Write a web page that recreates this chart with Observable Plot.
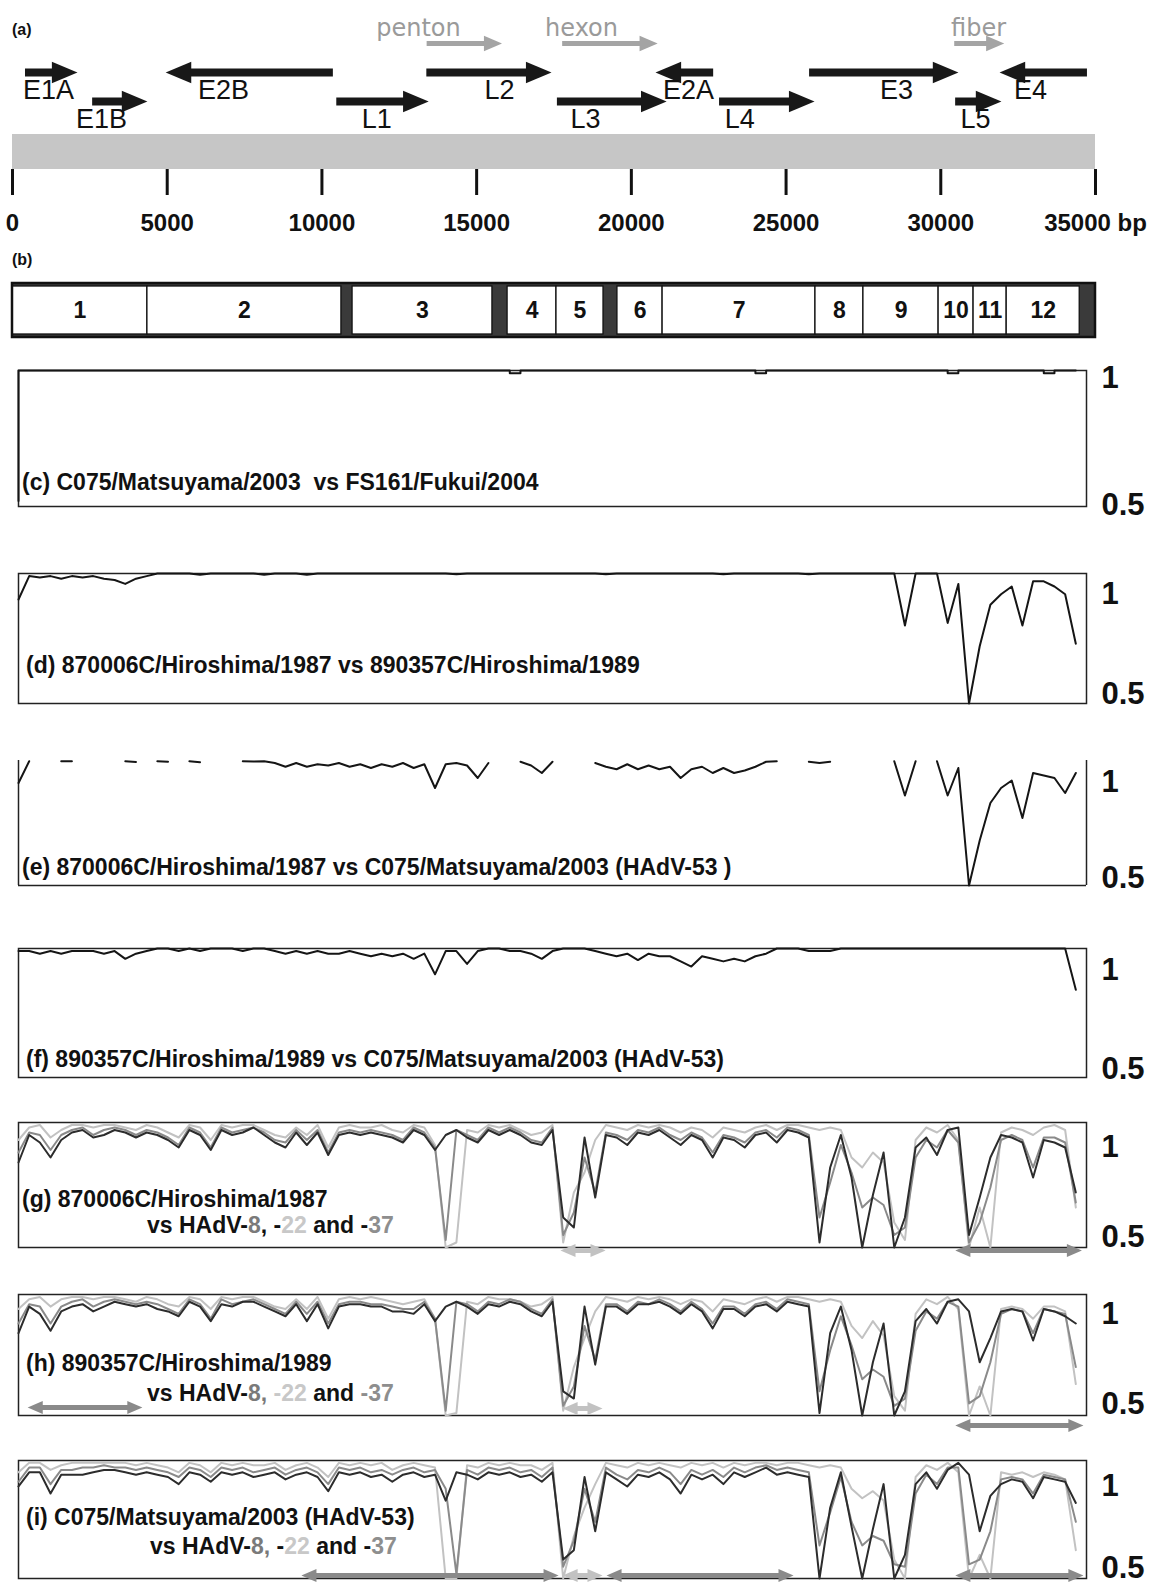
<!DOCTYPE html>
<html><head><meta charset="utf-8">
<script src="https://cdn.jsdelivr.net/npm/d3@7"></script>
<script src="https://cdn.jsdelivr.net/npm/@observablehq/plot@0.6"></script>
<style>
html,body{margin:0;padding:0;background:#fff;}
#page{position:relative;width:1151px;height:1587px;overflow:hidden;font-family:"Liberation Sans",Arial,Helvetica,sans-serif;background:#fff;}
.blk{position:absolute;left:0;}
.lab{position:absolute;white-space:pre;font-weight:bold;font-size:23px;line-height:26px;color:#111;}
.tag{position:absolute;white-space:pre;font-weight:bold;font-size:16px;line-height:18px;color:#111;}
svg{display:block;}
</style></head><body><div id="page"></div>
<script>
// ================= DATA =================
const genomeLength = 35000;
const tickValues = [0, 5000, 10000, 15000, 20000, 25000, 30000, 35000];
const tickLabels = ["0", "5000", "10000", "15000", "20000", "25000", "30000", "35000 bp"];

// (a) transcription units
const geneNames   = ["E1A", "E1B", "E2B", "L1", "L2", "L3", "E2A", "L4", "E3", "L5", "E4"];
const geneStart   = [420, 2590, 10370, 10480, 13390, 17610, 22660, 22850, 25760, 30480, 34740];
const geneEnd     = [2100, 4360, 4950, 13450, 17420, 21140, 20780, 25920, 30570, 31960, 31900];
const geneRow     = ["upper", "lower", "upper", "lower", "upper", "lower", "upper", "lower", "upper", "lower", "upper"];
const geneLabelAt = [1160, 2880, 6820, 11770, 15740, 18520, 21850, 23500, 28570, 31120, 32900];

const proteinNames   = ["penton", "hexon", "fiber"];
const proteinStart   = [13400, 17780, 30450];
const proteinEnd     = [15820, 20850, 32050];
const proteinLabelAt = [13120, 18390, 31220];

// (b) genome regions
const regionLabels = ["1", "2", "3", "4", "5", "6", "7", "8", "9", "10", "11", "12"];
const regionStart  = [0, 4360, 10990, 16000, 17580, 19550, 21010, 25950, 27500, 29930, 31060, 32130];
const regionEnd    = [4360, 10630, 15510, 17580, 19100, 21010, 25950, 27500, 29930, 31060, 32130, 34490];

// similarity scans, one value per 350-bp window step
const windowStep = 350;
const yTickValues = [1, 0.5];
const yTickLabels = ["1", "0.5"];

const simC = [
0.52,1,1,1,1,1,1,1,1,1,
1,1,1,1,1,1,1,1,1,1,
1,1,1,1,1,1,1,1,1,1,
1,1,1,1,1,1,1,1,1,1,
1,1,1,1,1,1,1,0.99,1,1,
1,1,1,1,1,1,1,1,1,1,
1,1,1,1,1,1,1,1,1,1,
0.99,1,1,1,1,1,1,1,1,1,
1,1,1,1,1,1,1,1,0.99,1,
1,1,1,1,1,1,1,0.99,1,1];

const simD = [
0.90,0.99,0.985,0.99,0.98,0.99,0.985,0.99,0.98,0.975,
0.96,0.98,0.99,1,1,1,1,0.995,1,1,
1,1,1,0.995,1,1,1,0.995,1,1,
1,1,1,1,1,1,1,1,1,1,
1,0.997,1,1,1,1,1,1,1,1,
1,1,1,1,1,0.997,1,1,1,1,
1,1,1,1,1,1,0.997,1,1,1,
1,1,1,1,0.997,1,1,1,1,1,
1,1,1,0.80,1,1,1,0.81,0.96,0.50,
0.72,0.88,0.92,0.95,0.80,0.97,0.97,0.95,0.92,0.73];

const simE = [
0.91,0.997,null,null,0.997,0.997,null,null,null,null,
0.997,0.994,null,0.997,0.995,null,0.997,0.993,null,null,
null,0.997,0.996,0.997,0.99,0.975,0.99,0.975,0.985,0.98,
0.99,0.975,0.985,0.97,0.985,0.975,0.99,0.97,0.985,0.89,
0.985,0.99,0.98,0.93,0.99,null,null,0.995,0.98,0.95,
0.995,null,null,null,0.99,0.975,0.965,0.985,0.965,0.98,
0.965,0.975,0.93,0.965,0.975,0.95,0.97,0.95,0.96,0.975,
0.995,0.997,null,null,0.995,0.99,0.995,null,null,null,
null,null,0.997,0.86,0.997,null,0.997,0.86,0.97,0.50,
0.68,0.83,0.89,0.92,0.77,0.95,0.94,0.93,0.87,0.95];

const simF = [
0.99,0.99,0.98,0.99,0.98,0.99,0.99,0.99,0.98,0.99,
0.96,0.98,0.99,1,1,0.99,1,0.99,1,1,
1,0.99,1,1,0.99,0.98,0.99,0.98,0.99,0.98,
0.98,0.99,0.98,0.97,0.98,0.97,0.98,0.96,0.98,0.90,
0.99,0.99,0.94,0.99,1,1,0.99,0.99,0.98,0.96,
0.99,1,1,1,0.99,0.98,0.97,0.98,0.955,0.98,
0.97,0.97,0.95,0.93,0.97,0.96,0.95,0.96,0.95,0.97,
0.98,1,1,1,0.99,0.99,0.99,1,1,1,
1,1,1,1,1,1,1,1,1,1,
1,1,1,1,1,1,1,1,1,0.84];

const simG8 = [
0.84,0.95,0.92,0.86,0.93,0.96,0.97,0.94,0.95,0.97,
0.96,0.94,0.96,0.95,0.93,0.90,0.97,0.95,0.89,0.97,
0.95,0.96,0.98,0.95,0.92,0.90,0.96,0.91,0.96,0.87,
0.95,0.96,0.95,0.96,0.95,0.94,0.92,0.97,0.95,0.89,
0.95,0.97,0.94,0.92,0.97,0.95,0.97,0.95,0.92,0.91,
0.97,0.62,0.58,0.94,0.70,0.95,0.94,0.91,0.96,0.95,
0.97,0.94,0.91,0.95,0.93,0.86,0.94,0.93,0.90,0.95,
0.96,0.92,0.97,0.96,0.94,0.52,0.82,0.95,0.78,0.50,
0.71,0.88,0.50,0.62,0.90,0.94,0.87,0.97,0.98,0.55,
0.70,0.86,0.95,0.94,0.92,0.78,0.93,0.92,0.90,0.72];
const simG22 = [
0.93,0.98,0.99,0.94,0.97,0.99,0.99,0.98,0.99,0.99,
0.98,0.97,0.99,0.98,0.96,0.94,0.99,0.98,0.93,0.99,
0.98,0.99,0.99,0.97,0.95,0.94,0.98,0.95,0.99,0.90,
0.98,0.99,0.98,0.98,0.99,0.97,0.96,0.99,0.98,0.91,
0.50,0.52,0.97,0.96,0.99,0.98,0.99,0.97,0.95,0.96,
0.99,0.52,0.72,0.80,0.93,0.99,0.98,0.97,0.99,0.98,
0.99,0.98,0.96,0.98,0.97,0.94,0.98,0.97,0.96,0.98,
0.99,0.97,0.99,0.99,0.98,0.97,0.98,0.97,0.86,0.82,
0.88,0.84,0.60,0.53,0.93,0.98,0.96,0.99,0.93,0.50,
0.66,0.50,0.96,0.98,0.97,0.95,0.98,0.99,0.97,0.66];
const simG37 = [
0.88,0.96,0.95,0.89,0.95,0.97,0.98,0.95,0.97,0.98,
0.97,0.95,0.97,0.96,0.94,0.91,0.98,0.96,0.90,0.98,
0.96,0.97,0.98,0.96,0.93,0.92,0.97,0.93,0.97,0.88,
0.96,0.97,0.96,0.97,0.96,0.95,0.93,0.98,0.96,0.90,
0.53,0.97,0.95,0.93,0.98,0.96,0.98,0.96,0.93,0.92,
0.98,0.55,0.64,0.86,0.72,0.96,0.95,0.93,0.97,0.96,
0.98,0.95,0.93,0.96,0.94,0.88,0.95,0.94,0.92,0.96,
0.97,0.94,0.98,0.97,0.95,0.62,0.76,0.91,0.80,0.66,
0.70,0.67,0.55,0.58,0.86,0.93,0.90,0.97,0.92,0.52,
0.60,0.74,0.93,0.95,0.93,0.82,0.94,0.94,0.92,0.68];

const simH8 = [
0.84,0.95,0.92,0.85,0.93,0.95,0.96,0.93,0.95,0.97,
0.96,0.95,0.96,0.94,0.93,0.91,0.97,0.95,0.89,0.96,
0.95,0.97,0.97,0.95,0.93,0.91,0.96,0.89,0.96,0.86,
0.95,0.96,0.96,0.95,0.95,0.93,0.93,0.92,0.96,0.89,
0.95,0.97,0.95,0.92,0.96,0.95,0.97,0.96,0.93,0.91,
0.97,0.60,0.57,0.95,0.71,0.95,0.95,0.92,0.96,0.96,
0.97,0.95,0.92,0.96,0.93,0.86,0.94,0.94,0.91,0.95,
0.96,0.93,0.97,0.96,0.95,0.51,0.84,0.95,0.77,0.50,
0.72,0.88,0.50,0.60,0.89,0.94,0.88,0.97,0.98,0.93,
0.72,0.82,0.93,0.94,0.93,0.81,0.94,0.93,0.91,0.88];
const simH22 = [
0.94,0.98,0.99,0.95,0.98,0.99,0.99,0.98,0.99,0.99,
0.98,0.97,0.99,0.98,0.96,0.95,0.99,0.98,0.94,0.99,
0.98,0.99,0.99,0.97,0.95,0.94,0.98,0.94,0.99,0.90,
0.98,0.99,0.98,0.99,0.98,0.97,0.96,0.97,0.98,0.90,
0.50,0.51,0.97,0.96,0.99,0.98,0.98,0.97,0.95,0.96,
0.99,0.52,0.70,0.82,0.93,0.99,0.98,0.97,0.99,0.98,
0.99,0.98,0.96,0.98,0.97,0.93,0.98,0.97,0.96,0.98,
0.99,0.97,0.99,0.99,0.98,0.97,0.98,0.97,0.87,0.82,
0.89,0.83,0.58,0.52,0.92,0.98,0.96,0.99,0.94,0.50,
0.62,0.50,0.94,0.95,0.94,0.90,0.95,0.95,0.93,0.63];
const simH37 = [
0.88,0.96,0.95,0.88,0.95,0.97,0.98,0.95,0.97,0.98,
0.97,0.96,0.97,0.96,0.94,0.92,0.98,0.96,0.90,0.98,
0.96,0.97,0.98,0.96,0.94,0.92,0.97,0.92,0.97,0.88,
0.96,0.97,0.97,0.96,0.96,0.95,0.94,0.94,0.97,0.90,
0.52,0.97,0.96,0.93,0.97,0.96,0.98,0.97,0.94,0.92,
0.98,0.54,0.62,0.87,0.73,0.96,0.96,0.93,0.97,0.96,
0.98,0.96,0.93,0.97,0.94,0.88,0.95,0.95,0.92,0.96,
0.97,0.94,0.98,0.97,0.96,0.60,0.77,0.91,0.79,0.65,
0.69,0.66,0.54,0.57,0.85,0.93,0.90,0.97,0.95,0.55,
0.58,0.72,0.92,0.94,0.93,0.84,0.94,0.93,0.92,0.70];

const simI8 = [
0.89,0.95,0.95,0.86,0.94,0.94,0.94,0.95,0.96,0.96,
0.95,0.94,0.95,0.94,0.93,0.90,0.95,0.94,0.91,0.95,
0.94,0.95,0.93,0.94,0.95,0.92,0.94,0.95,0.93,0.87,
0.95,0.94,0.95,0.93,0.94,0.91,0.94,0.95,0.93,0.94,
0.83,0.95,0.94,0.92,0.95,0.94,0.95,0.93,0.94,0.91,
0.95,0.58,0.62,0.93,0.70,0.95,0.92,0.89,0.94,0.93,
0.95,0.92,0.86,0.94,0.92,0.94,0.90,0.95,0.93,0.95,
0.97,0.94,0.95,0.94,0.93,0.50,0.80,0.95,0.72,0.50,
0.71,0.90,0.50,0.60,0.90,0.95,0.88,0.96,0.99,0.94,
0.70,0.85,0.90,0.92,0.91,0.84,0.93,0.92,0.91,0.82];
const simI22 = [
0.95,0.99,0.99,0.96,0.98,0.99,0.99,0.99,0.99,0.99,
0.99,0.98,0.99,0.98,0.97,0.95,0.99,0.98,0.95,0.99,
0.98,0.99,0.98,0.98,0.99,0.96,0.98,0.99,0.97,0.93,
0.99,0.98,0.99,0.98,0.99,0.96,0.98,0.99,0.98,0.97,
0.50,0.50,0.98,0.97,0.99,0.98,0.99,0.98,0.98,0.96,
0.99,0.50,0.68,0.80,0.90,0.99,0.98,0.97,0.99,0.98,
0.99,0.98,0.97,0.99,0.98,0.99,0.97,0.99,0.98,0.99,
0.99,0.98,0.99,0.99,0.98,0.97,0.98,0.97,0.88,0.84,
0.87,0.83,0.58,0.50,0.93,0.98,0.96,0.99,0.95,0.50,
0.60,0.50,0.95,0.94,0.95,0.93,0.95,0.94,0.92,0.62];
const simI37 = [
0.91,0.97,0.97,0.90,0.96,0.96,0.97,0.97,0.98,0.97,
0.97,0.96,0.97,0.96,0.95,0.93,0.97,0.96,0.93,0.97,
0.96,0.97,0.95,0.96,0.97,0.94,0.96,0.97,0.95,0.90,
0.97,0.96,0.97,0.95,0.96,0.94,0.96,0.97,0.95,0.96,
0.88,0.52,0.96,0.94,0.97,0.96,0.97,0.95,0.96,0.93,
0.97,0.55,0.66,0.88,0.74,0.97,0.94,0.92,0.96,0.95,
0.97,0.95,0.90,0.96,0.94,0.96,0.93,0.97,0.95,0.97,
0.98,0.96,0.97,0.96,0.95,0.64,0.78,0.93,0.74,0.64,
0.68,0.66,0.56,0.55,0.86,0.94,0.90,0.97,0.97,0.56,
0.58,0.70,0.92,0.93,0.92,0.86,0.94,0.93,0.92,0.74];

// recombination regions (double-headed arrows) and their closest type
const gArrowStart = [17760, 30700];
const gArrowEnd   = [19240, 34850];
const gArrowRef   = ["22", "37"];
const hArrowStart = [300, 17830, 30700];
const hArrowEnd   = [4060, 19140, 34900];
const hArrowRef   = ["37", "22", "37"];
const iArrowStart = [9270, 17830, 19270, 30700];
const iArrowEnd   = [17700, 19140, 25400, 34900];
const iArrowRef   = ["37", "22", "37", "37"];

// ================= DRAWING =================
const W = 1151;
const FONT = "'Liberation Sans', Arial, Helvetica, sans-serif";
const page = document.getElementById("page");

function put(node, top) {
  const wrap = document.createElement("div");
  wrap.className = "blk";
  wrap.style.top = top + "px";
  wrap.appendChild(node);
  page.appendChild(wrap);
}
function tag(html, left, cy, cls = "lab", lh = 26) {
  const d = document.createElement("div");
  d.className = cls;
  d.style.left = left + "px";
  d.style.top = (cy - lh / 2) + "px";
  d.innerHTML = html;
  page.appendChild(d);
}

// arrowhead symbols with the tip at the anchor point
const headRight = {draw(ctx, size) { const s = Math.sqrt(size), L = 1.7 * s, H = 0.72 * s;
  ctx.moveTo(0, 0); ctx.lineTo(-L, -H); ctx.lineTo(-L, H); ctx.closePath(); }};
const headLeft = {draw(ctx, size) { const s = Math.sqrt(size), L = 1.7 * s, H = 0.72 * s;
  ctx.moveTo(0, 0); ctx.lineTo(L, -H); ctx.lineTo(L, H); ctx.closePath(); }};

const baseStyle = {fontFamily: FONT, background: "transparent", overflow: "visible"};
const genome = [{start: 0, end: genomeLength}];

// ---- (a) gene map ----
const genes = geneNames.map((name, i) => ({name, start: geneStart[i], end: geneEnd[i], row: geneRow[i], labelAt: geneLabelAt[i]}));
const proteins = proteinNames.map((name, i) => ({name, start: proteinStart[i], end: proteinEnd[i], row: "protein", labelAt: proteinLabelAt[i]}));
const fwd = genes.filter(d => d.end > d.start);
const rev = genes.filter(d => d.end < d.start);
const GENE = "#181818", PROT = "#a4a4a4";

put(Plot.plot({
  width: W, height: 132, marginLeft: 12, marginRight: 56, marginTop: 0, marginBottom: 0,
  style: baseStyle,
  x: {domain: [0, genomeLength], axis: null},
  y: {type: "point", domain: ["protein", "upper", "lower"], range: [42, 101], padding: 0, axis: null},
  marks: [
    Plot.ruleY(proteins, {x1: "start", x2: "end", y: "row", stroke: PROT, strokeWidth: 5, insetRight: 13}),
    Plot.dot(proteins, {x: "end", y: "row", symbol: headRight, r: 6, fill: PROT, stroke: "none"}),
    Plot.text(proteins, {x: "labelAt", y: "row", text: "name", dy: -15, fontSize: 24, fontFamily: "'DejaVu Sans', sans-serif", fill: "#9a9a9a"}),
    Plot.ruleY(fwd, {x1: "start", x2: "end", y: "row", stroke: GENE, strokeWidth: 8, insetRight: 20}),
    Plot.ruleY(rev, {x1: "end", x2: "start", y: "row", stroke: GENE, strokeWidth: 8, insetLeft: 20}),
    Plot.dot(fwd, {x: "end", y: "row", symbol: headRight, r: 8.5, fill: GENE, stroke: "none"}),
    Plot.dot(rev, {x: "end", y: "row", symbol: headLeft, r: 8.5, fill: GENE, stroke: "none"}),
    Plot.text(genes, {x: "labelAt", y: "row", text: "name", dy: 18, fontSize: 27, fill: "#111"})
  ]
}), 0);

// ---- (a) genome bar + scale ----
put(Plot.plot({
  width: W, height: 100, marginTop: 1, marginBottom: 64, marginLeft: 12, marginRight: 56,
  style: {...baseStyle, fontWeight: "bold"},
  x: {domain: [0, genomeLength]},
  marks: [
    Plot.barX(genome, {x1: "start", x2: "end", fill: "#c6c6c6"}),
    Plot.axisX(tickValues, {anchor: "bottom", tickSize: 26, tickPadding: 18, strokeWidth: 3, stroke: "#111",
      fontSize: 24, fontWeight: "bold", fill: "#111", tickFormat: d => tickLabels[tickValues.indexOf(d)]})
  ]
}), 133);

// ---- (b) regions ----
const regions = regionLabels.map((label, i) => ({label, start: regionStart[i], end: regionEnd[i]}));
put(Plot.plot({
  width: W, height: 58, marginTop: 2, marginBottom: 2, marginLeft: 12, marginRight: 56,
  style: baseStyle,
  x: {domain: [0, genomeLength], axis: null},
  marks: [
    Plot.barX(genome, {x1: "start", x2: "end", fill: "#3a3a3a"}),
    Plot.barX(regions, {x1: "start", x2: "end", fill: "#fff", stroke: "#111", strokeWidth: 1.3, insetTop: 3, insetBottom: 3}),
    Plot.barX(genome, {x1: "start", x2: "end", fill: "none", stroke: "#111", strokeWidth: 2.5}),
    Plot.text(regions, {x: d => (d.start + d.end) / 2, text: "label", fontSize: 23, fontWeight: "bold", fill: "#111"})
  ]
}), 281);

// ---- similarity panels ----
const refDomain = ["query", "8", "22", "37"];
const refRange = ["#151515", "#2c2c2c", "#c2c2c2", "#8a8a8a"];

function panel({lines, top, bottom, mb, dyTop, dyBottom, arrows = [], openTop = false, curve = "linear"}) {
  const mt = 4;
  const yMin = yTickValues[1];
  const marks = [];
  if (openTop) {
    marks.push(Plot.ruleX([0, genomeLength], {stroke: "#222", strokeWidth: 1.5}));
    marks.push(Plot.ruleY([yMin], {stroke: "#222", strokeWidth: 1.5}));
  } else {
    marks.push(Plot.frame({stroke: "#222", strokeWidth: 1.5}));
  }
  for (const {vals, ref} of lines) {
    const rows = vals.map((v, i) => ({pos: i * windowStep, sim: v, ref}));
    marks.push(Plot.line(rows, {x: "pos", y: "sim", stroke: "ref", strokeWidth: 2, curve}));
  }
  for (const {a, dy} of arrows) {
    marks.push(Plot.ruleY([a], {x1: "start", x2: "end", y: () => yMin, dy, stroke: "ref", strokeWidth: 5, insetLeft: 11, insetRight: 11}));
    marks.push(Plot.dot([a], {x: "start", y: () => yMin, dy, symbol: headLeft, r: 5, fill: "ref", stroke: "none"}));
    marks.push(Plot.dot([a], {x: "end", y: () => yMin, dy, symbol: headRight, r: 5, fill: "ref", stroke: "none"}));
  }
  marks.push(Plot.text([yTickValues[0]], {y: d => d, text: () => yTickLabels[0], frameAnchor: "right", dx: 15, dy: dyTop,
    textAnchor: "start", lineAnchor: "top", fontSize: 31, fontWeight: "bold", fill: "#111"}));
  marks.push(Plot.text([yTickValues[1]], {y: d => d, text: () => yTickLabels[1], frameAnchor: "right", dx: 15, dy: dyBottom,
    textAnchor: "start", lineAnchor: "bottom", fontSize: 31, fontWeight: "bold", fill: "#111"}));
  const svg = Plot.plot({
    width: W, height: (bottom - top) + mt + mb, marginTop: mt, marginBottom: mb, marginLeft: 18, marginRight: 65,
    style: baseStyle,
    x: {domain: [0, genomeLength], axis: null},
    y: {domain: [yTickValues[1], yTickValues[0]], axis: null},
    color: {domain: refDomain, range: refRange},
    marks
  });
  put(svg, top - mt);
}
const arrowsOf = (s, e, r, dys) => s.map((start, i) => ({a: {start, end: e[i], ref: r[i]}, dy: dys[i]}));

panel({lines: [{vals: simC, ref: "query"}], top: 370, bottom: 506, mb: 8, dyTop: -5, dyBottom: 8, curve: "step-before"});
panel({lines: [{vals: simD, ref: "query"}], top: 573, bottom: 703, mb: 6, dyTop: 8, dyBottom: 0});
panel({lines: [{vals: simE, ref: "query"}], top: 760, bottom: 885, mb: 6, dyTop: 9, dyBottom: 2, openTop: true});
panel({lines: [{vals: simF, ref: "query"}], top: 948, bottom: 1077, mb: 6, dyTop: 9, dyBottom: 1});
panel({lines: [{vals: simG22, ref: "22"}, {vals: simG37, ref: "37"}, {vals: simG8, ref: "8"}],
  top: 1122, bottom: 1247, mb: 14, dyTop: 12, dyBottom: -1,
  arrows: arrowsOf(gArrowStart, gArrowEnd, gArrowRef, [3, 3])});
panel({lines: [{vals: simH22, ref: "22"}, {vals: simH37, ref: "37"}, {vals: simH8, ref: "8"}],
  top: 1294, bottom: 1415, mb: 18, dyTop: 7.5, dyBottom: -1.5,
  arrows: arrowsOf(hArrowStart, hArrowEnd, hArrowRef, [-8, -7, 10])});
panel({lines: [{vals: simI22, ref: "22"}, {vals: simI37, ref: "37"}, {vals: simI8, ref: "8"}],
  top: 1460, bottom: 1578, mb: 9, dyTop: 13, dyBottom: -1,
  arrows: arrowsOf(iArrowStart, iArrowEnd, iArrowRef, [-3, -3, -3, -3])});

// ---- labels ----
tag("(a)", 12, 30, "tag", 18);
tag("(b)", 12, 260, "tag", 18);
const c8 = "#7a7a7a", c22 = "#c8c8c8", c37 = "#8e8e8e";
tag("(c) C075/Matsuyama/2003  vs FS161/Fukui/2004", 22, 482);
tag("(d) 870006C/Hiroshima/1987 vs 890357C/Hiroshima/1989", 26, 665);
tag("(e) 870006C/Hiroshima/1987 vs C075/Matsuyama/2003 (HAdV-53 )", 22, 867);
tag("(f) 890357C/Hiroshima/1989 vs C075/Matsuyama/2003 (HAdV-53)", 26, 1059);
tag("(g) 870006C/Hiroshima/1987", 22, 1199);
tag(`vs HAdV-<span style="color:${c8}">8</span>, -<span style="color:${c22}">22</span> and -<span style="color:${c37}">37</span>`, 147, 1225);
tag("(h) 890357C/Hiroshima/1989", 26, 1363);
tag(`vs HAdV-<span style="color:${c8}">8,</span> <span style="color:${c22}">-22</span> and <span style="color:${c37}">-37</span>`, 147, 1393);
tag("(i) C075/Matsuyama/2003 (HAdV-53)", 26, 1517);
tag(`vs HAdV-<span style="color:${c8}">8,</span> -<span style="color:${c22}">22</span> and -<span style="color:${c37}">37</span>`, 150, 1546);
</script></body></html>
